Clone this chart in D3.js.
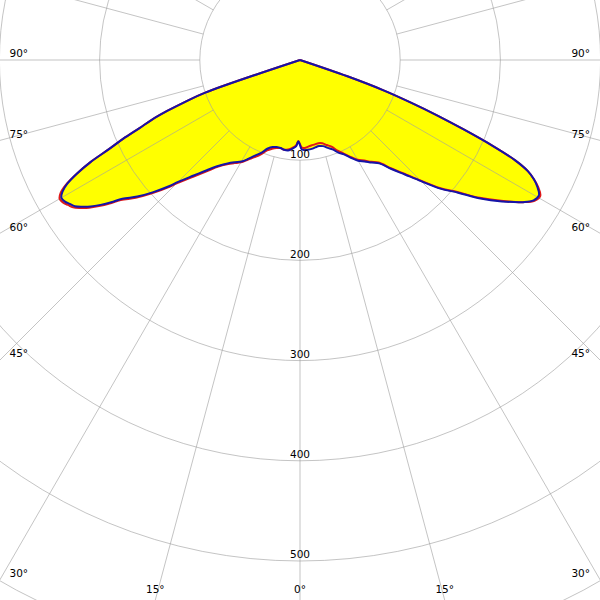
<!DOCTYPE html>
<html>
<head>
<meta charset="utf-8">
<script src="https://cdn.jsdelivr.net/npm/d3@7"></script>
<style>
  html, body { margin: 0; padding: 0; background: #fff; }
  svg { display: block; }
  text { font-family: "DejaVu Sans", Verdana, sans-serif; font-size: 10.5px; fill: #000; }
</style>
</head>
<body>
<svg id="chart" width="600" height="600"></svg>
<script>
// gamma angles (deg), negative = left half (C180), positive = right half (C0)
const angles = [-90,-80,-75,-73,-72,-71,-70,-69,-68,-67,-66,-65,-64,-63,-62,-61,-60,-59,-58,-57,-56,-55,-54,-53,-52,-50,-48,-46,-45,-42.5,-40,-37.5,-35,-32.5,-30,-27.5,-25,-22.5,-20,-17.5,-15,-12.5,-10,-7.5,-5,-2.5,-1.2,0,1,2.5,5,7.5,10,12.5,15,17.5,20,22.5,25,27.5,30,32.5,35,37.5,40,42.5,45,47.5,50,52.5,55,57.5,59,60.5,62,63,64,65,66,67,68,69,70,71,72,73,75,80,90];

// luminous intensity, C0-C180 plane (blue)
const seriesC0 = [0,0,0,0,0,100,122,142,160,174,193,210,233,250,263,271,275,274,271,268,262,255,246,236,225,212,197,181,172,156,143,133,126,121,117,111,105,100,94,91,90,90,91,91,89,86,81,85,89,90,90,89.5,88.5,88,89,92,95,100,104,110,116,120,125,130,142,155,171,190,206,227,246,264,272,274,268,262,253,237,210,178,148,118,90,50,0,0,0,0,0];

// luminous intensity, C90-C270 plane (red)
const seriesC90 = [0,0,0,0,0,100,122,142,160,174,193,210,233,250,264,273,277,276,273,270,264,257,248,238,227,214,199,183,174,158,145,134,127,122,118,112,107,102,96,93,91,90,91,90,88,85,81,84,87,88,87,86,85.5,85,86,89,92,98,103,109,115,119,124,129,141,154,170,189,205,226,245,264,273,275.5,269,262,253,237,210,178,148,118,90,50,0,0,0,0,0];

const circleValues = [100, 200, 300, 400, 500, 600];
const circleLabels = ["100", "200", "300", "400", "500"];
const angleLabels = ["90°","75°","60°","45°","30°","15°","0°","15°","30°","45°","60°","75°","90°"];
const labelAngles = [-90,-75,-60,-45,-30,-15,0,15,30,45,60,75,90];

const W = 600, H = 600, cx = 300, cy = 60;
const svg = d3.select("#chart");
const r = d3.scaleLinear().domain([0, 500]).range([0, 501]);
const rad = g => g * Math.PI / 180;

const dataC0 = angles.map((g, i) => ({g, v: seriesC0[i]}));
const dataC90 = angles.map((g, i) => ({g, v: seriesC90[i]}));

const line = d3.lineRadial()
  .angle(d => Math.PI - rad(d.g))
  .radius(d => r(d.v))
  .curve(d3.curveCatmullRom.alpha(0.5));

const plot = svg.append("g").attr("transform", `translate(${cx},${cy})`);

// fills
plot.append("path").attr("d", line(dataC90) + "Z").attr("fill", "#ffff00").attr("stroke", "none");
plot.append("path").attr("d", line(dataC0) + "Z").attr("fill", "#ffff00").attr("stroke", "none");

// grid
const grid = plot.append("g").attr("stroke", "#a0a0a0").attr("stroke-opacity", 0.62).attr("fill", "none").attr("stroke-width", 1);
grid.selectAll("circle").data(circleValues).join("circle").attr("r", d => r(d));
const spokes = d3.range(0, 360, 15);
grid.selectAll("line").data(spokes).join("line")
  .attr("x1", d => r(100) * Math.sin(rad(d)))
  .attr("y1", d => r(100) * Math.cos(rad(d)))
  .attr("x2", d => r(900) * Math.sin(rad(d)))
  .attr("y2", d => r(900) * Math.cos(rad(d)));

// curves
plot.append("path").attr("d", line(dataC90)).attr("fill", "none").attr("stroke", "#e01818").attr("stroke-width", 2).attr("stroke-linejoin", "round");
plot.append("path").attr("d", line(dataC0)).attr("fill", "none").attr("stroke", "#1414a8").attr("stroke-width", 2).attr("stroke-linejoin", "round");

// circle value labels
svg.selectAll("text.cv").data(circleLabels).join("text").attr("class", "cv")
  .attr("x", cx).attr("y", d => cy + r(+d) - 2.7)
  .attr("text-anchor", "middle").text(d => d);

// angle labels at the frame
labelAngles.forEach((g, i) => {
  const s = Math.sin(rad(g)), c = Math.cos(rad(g));
  const tSide = Math.abs(s) < 1e-9 ? Infinity : (s < 0 ? cx / -s : (W - cx) / s);
  const tBot = Math.abs(c) < 1e-9 ? Infinity : (H - cy) / c;
  if (tSide <= tBot) {
    const y = cy + tSide * c;
    svg.append("text")
      .attr("x", s < 0 ? 9.5 : W - 10)
      .attr("y", y - 2.7)
      .attr("text-anchor", s < 0 ? "start" : "end")
      .text(angleLabels[i]);
  } else {
    const x = cx + tBot * s;
    svg.append("text")
      .attr("x", x).attr("y", 592.7)
      .attr("text-anchor", "middle")
      .text(angleLabels[i]);
  }
});
</script>
</body>
</html>
